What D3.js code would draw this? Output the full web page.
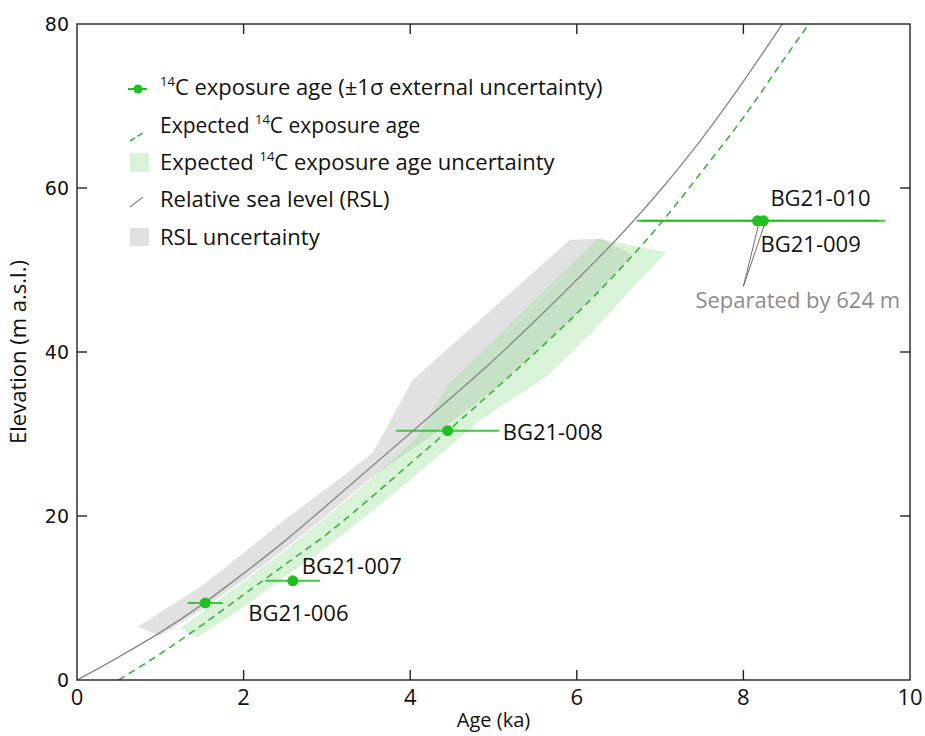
<!DOCTYPE html>
<html>
<head>
<meta charset="utf-8">
<script src="https://cdn.jsdelivr.net/npm/d3@7"></script>
<style>
  body { margin: 0; background: #fff; }
  svg { display: block; }
</style>
</head>
<body>
<div id="chart"></div>
<script>
// values: [age (ka), elevation (m a.s.l.)]
const rslCurve = [[0,0],[0.5,2.8],[1,5.8],[1.5,9.2],[2,13.0],[2.5,17.0],[3,21.3],[3.5,25.7],[4,30.1],
  [4.5,34.5],[5,39.0],[5.5,43.8],[6,48.8],[6.5,54.0],[7,59.7],[7.5,66.0],[8,73.0],[8.5,80.5]]
const expectedCurve = [[0.5,0],[1,3.2],[1.5,6.7],[2,10.4],[2.5,14.1],[3,17.8],[3.5,22.0],[4,26.4],
  [4.5,30.8],[5,35.3],[5.5,39.9],[6,44.7],[6.5,49.9],[7,55.6],[7.5,62.0],[8,68.6],[8.5,75.9],[9,83.0]]

// RSL uncertainty envelope
const rslUpper = [[0.73,6.5],[1.5,11.5],[2,15.5],[2.5,19.6],[3.16,24.6],[3.55,27.7],[4.03,36.6],[5.92,53.7],[6.3,53.8]]
const rslLower = [[1.0,5.4],[1.5,8.6],[2,12.2],[2.5,16.0],[3,20.1],[3.5,24.4],[4,28.0],[4.5,31.5],[5.08,36.0],[6,44.7],[6.67,51.8]]

// expected exposure age uncertainty envelope
const expUpper = [[1.24,6.3],[1.5,8.3],[2,12.0],[2.5,15.8],[3,19.9],[3.5,24.2],[4.08,29.6],[4.45,36.0],[6.25,53.8],[7.08,52.2]]
const expLower = [[1.45,5.2],[2,8.9],[2.5,12.6],[3,16.2],[3.5,20.2],[4,24.4],[4.5,28.7],[4.84,31.7],[5.64,37.0],[6.2,42.6],[6.67,47.8]]

// samples
const sampleNames = ['BG21-006','BG21-007','BG21-008','BG21-009','BG21-010']
const sampleAge = [1.54, 2.59, 4.45, 8.17, 8.24]
const sampleErr = [0.21, 0.33, 0.62, 1.45, 1.46]
const sampleElev = [9.4, 12.1, 30.4, 56.0, 56.0]

const xTicks = [0, 2, 4, 6, 8, 10]
const yTicks = [0, 20, 40, 60, 80]

const width = 925, height = 736
const margin = { left: 77, right: 15, top: 24, bottom: 56 }

const green = '#1fc01f'
const dashGreen = '#3db23d'
const rslGrey = '#8a8a8a'

const svg = d3.select('#chart').append('svg')
  .attr('width', width)
  .attr('height', height)

const x = d3.scaleLinear().domain([0, 10]).range([margin.left, width - margin.right])
const y = d3.scaleLinear().domain([0, 80]).range([height - margin.bottom, margin.top])

svg.append('clipPath').attr('id', 'plotclip')
  .append('rect')
  .attr('x', x(0)).attr('y', y(80))
  .attr('width', x(10) - x(0)).attr('height', y(0) - y(80))

const plot = svg.append('g').attr('clip-path', 'url(#plotclip)')

const line = d3.line().x(d => x(d[0])).y(d => y(d[1]))

function envelope (upper, lower) {
  return line(upper.concat(lower.slice().reverse())) + 'Z'
}

// bands
plot.append('path')
  .attr('d', envelope(rslUpper, rslLower))
  .attr('fill', '#c4c4c4')
  .attr('fill-opacity', 0.5)

plot.append('path')
  .attr('d', envelope(expUpper, expLower))
  .attr('fill', '#9fe09f')
  .attr('fill-opacity', 0.4)

// curves
const smooth = d3.line().x(d => x(d[0])).y(d => y(d[1])).curve(d3.curveMonotoneX)

plot.append('path')
  .attr('d', smooth(rslCurve))
  .attr('fill', 'none')
  .attr('stroke', rslGrey)
  .attr('stroke-width', 1.4)

plot.append('path')
  .attr('d', smooth(expectedCurve))
  .attr('fill', 'none')
  .attr('stroke', dashGreen)
  .attr('stroke-width', 1.6)
  .attr('stroke-dasharray', '7,5')

// error bars and points
const samples = sampleNames.map((n, i) => ({ name: n, age: sampleAge[i], err: sampleErr[i], elev: sampleElev[i] }))

plot.selectAll('.errbar')
  .data(samples)
  .enter()
  .append('line')
  .attr('class', 'errbar')
  .attr('x1', d => x(d.age - d.err))
  .attr('x2', d => x(d.age + d.err))
  .attr('y1', d => y(d.elev))
  .attr('y2', d => y(d.elev))
  .attr('stroke', green)
  .attr('stroke-width', 2)
  .attr('stroke-opacity', 0.85)

// leader lines for the two overlapping samples
const sepPoint = [x(8.0), y(48.0)]
plot.selectAll('.leader')
  .data(samples.slice(3))
  .enter()
  .append('line')
  .attr('class', 'leader')
  .attr('x1', d => x(d.age) + 1)
  .attr('y1', d => y(d.elev) + 4)
  .attr('x2', sepPoint[0])
  .attr('y2', sepPoint[1])
  .attr('stroke', '#6e6e6e')
  .attr('stroke-width', 1)

plot.selectAll('.dot')
  .data(samples)
  .enter()
  .append('circle')
  .attr('class', 'dot')
  .attr('cx', d => x(d.age))
  .attr('cy', d => y(d.elev))
  .attr('r', 5.5)
  .attr('fill', green)

// sample labels
const labelFont = '"Open Sans", sans-serif'
const labelPos = {
  'BG21-006': [43, 18], 'BG21-007': [9, -7], 'BG21-008': [55, 9],
  'BG21-009': [3, 31], 'BG21-010': [7, -15]
}
svg.selectAll('.sampleLabel')
  .data(samples)
  .enter()
  .append('text')
  .attr('class', 'sampleLabel')
  .attr('x', d => x(d.age) + labelPos[d.name][0])
  .attr('y', d => y(d.elev) + labelPos[d.name][1])
  .text(d => d.name)
  .style('font-family', labelFont)
  .style('font-size', '22px')
  .style('fill', '#111')

svg.append('text')
  .attr('x', sepPoint[0] - 48)
  .attr('y', sepPoint[1] + 22)
  .text('Separated by 624 m')
  .style('font-family', labelFont)
  .style('font-size', '22px')
  .style('fill', '#8c8c8c')

// frame and inward ticks
svg.append('rect')
  .attr('x', x(0)).attr('y', y(80))
  .attr('width', x(10) - x(0)).attr('height', y(0) - y(80))
  .attr('fill', 'none')
  .attr('stroke', '#222')
  .attr('stroke-width', 1.4)

const tickLen = 10
const inner = xTicks.slice(1, -1)
svg.selectAll('.xtickB').data(inner).enter().append('line')
  .attr('x1', d => x(d)).attr('x2', d => x(d))
  .attr('y1', y(0)).attr('y2', y(0) - tickLen)
  .attr('stroke', '#222').attr('stroke-width', 1.4)
svg.selectAll('.xtickT').data(inner).enter().append('line')
  .attr('x1', d => x(d)).attr('x2', d => x(d))
  .attr('y1', y(80)).attr('y2', y(80) + tickLen)
  .attr('stroke', '#222').attr('stroke-width', 1.4)
const innerY = yTicks.slice(1, -1)
svg.selectAll('.ytickL').data(innerY).enter().append('line')
  .attr('x1', x(0)).attr('x2', x(0) + tickLen)
  .attr('y1', d => y(d)).attr('y2', d => y(d))
  .attr('stroke', '#222').attr('stroke-width', 1.4)
svg.selectAll('.ytickR').data(innerY).enter().append('line')
  .attr('x1', x(10)).attr('x2', x(10) - tickLen)
  .attr('y1', d => y(d)).attr('y2', d => y(d))
  .attr('stroke', '#222').attr('stroke-width', 1.4)

// tick labels
svg.selectAll('.xlab').data(xTicks).enter().append('text')
  .attr('x', d => x(d))
  .attr('y', y(0) + 25)
  .attr('text-anchor', 'middle')
  .text(d => d)
  .style('font-family', labelFont)
  .style('font-size', '22px')
  .style('fill', '#111')

svg.selectAll('.ylab').data(yTicks).enter().append('text')
  .attr('x', x(0) - 8)
  .attr('y', d => y(d) + 7)
  .attr('text-anchor', 'end')
  .text(d => d)
  .style('font-family', '"DejaVu Sans", sans-serif')
  .style('font-size', '19px')
  .style('fill', '#111')

svg.append('text')
  .attr('x', (x(0) + x(10)) / 2)
  .attr('y', 727)
  .attr('text-anchor', 'middle')
  .text('Age (ka)')
  .style('font-family', labelFont)
  .style('font-size', '20px')
  .style('fill', '#111')

svg.append('text')
  .attr('transform', `translate(26 ${(y(0) + y(80)) / 2}) rotate(-90)`)
  .attr('text-anchor', 'middle')
  .text('Elevation (m a.s.l.)')
  .style('font-family', labelFont)
  .style('font-size', '22px')
  .style('fill', '#111')

// legend
const legend = svg.append('g').attr('transform', 'translate(128 0)')
const legendY = [87, 125, 162, 199, 237]
const legendFontSize = [22, 21, 22, 22, 22]

function legendText (i, parts) {
  const t = legend.append('text')
    .attr('x', 32)
    .attr('y', legendY[i] + 8)
    .style('font-family', labelFont)
    .style('font-size', legendFontSize[i] + 'px')
    .style('fill', '#111')
  parts.forEach(p => {
    if (p.sup) {
      t.append('tspan').attr('dy', -9).style('font-size', '13px').text(p.sup)
      t.append('tspan').attr('dy', 9).text(p.text)
    } else {
      t.append('tspan').text(p.text)
    }
  })
}

legend.append('line')
  .attr('x1', 0).attr('x2', 19).attr('y1', legendY[0] + 2).attr('y2', legendY[0] + 2)
  .attr('stroke', green).attr('stroke-width', 2)
legend.append('circle').attr('cx', 10).attr('cy', legendY[0] + 2).attr('r', 4.5).attr('fill', green)
legendText(0, [{ sup: '14', text: 'C exposure age (±1σ external uncertainty)' }])

legend.append('line')
  .attr('x1', 2).attr('x2', 15).attr('y1', legendY[1] + 16).attr('y2', legendY[1] + 8)
  .attr('stroke', dashGreen).attr('stroke-width', 1.6).attr('stroke-dasharray', '6,3')
legendText(1, [{ text: 'Expected ' }, { sup: '14', text: 'C exposure age' }])

legend.append('rect')
  .attr('x', 2).attr('y', legendY[2] - 9).attr('width', 19).attr('height', 19)
  .attr('fill', '#9fe09f').attr('fill-opacity', 0.4)
legendText(2, [{ text: 'Expected ' }, { sup: '14', text: 'C exposure age uncertainty' }])

legend.append('line')
  .attr('x1', 2).attr('x2', 15).attr('y1', legendY[3] + 8).attr('y2', legendY[3] - 2)
  .attr('stroke', rslGrey).attr('stroke-width', 1.3)
legendText(3, [{ text: 'Relative sea level (RSL)' }])

legend.append('rect')
  .attr('x', 2).attr('y', legendY[4] - 9).attr('width', 19).attr('height', 18)
  .attr('fill', '#c4c4c4').attr('fill-opacity', 0.5)
legendText(4, [{ text: 'RSL uncertainty' }])
</script>
</body>
</html>
